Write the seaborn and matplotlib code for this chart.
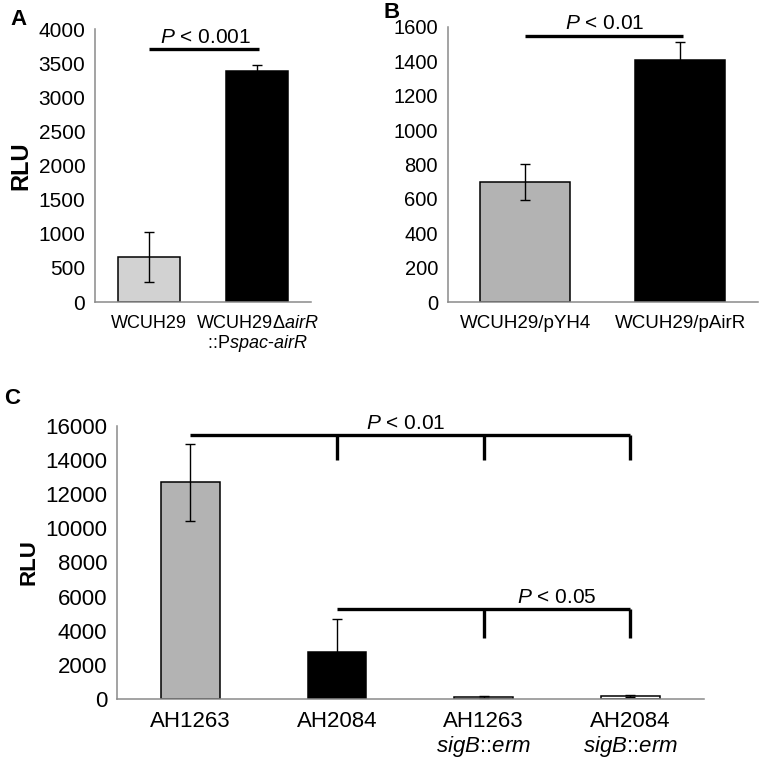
"""
Three-panel luminescence bar chart (RLU) with significance brackets.
"""

import numpy as np
import pandas as pd
import matplotlib
matplotlib.use("Agg")
import matplotlib.pyplot as plt
import seaborn as sns


# ─────────────────────────────────────────────
# Data
# ─────────────────────────────────────────────

a_strains = ["WCUH29", "WCUH29dairR"]
a_labels  = ["WCUH29", "WCUH29Δ$\\it{airR}$\n::P$\\it{spac}$-$\\it{airR}$"]
a_rlu     = [660, 3390]
a_err     = [360, 80]
a_colors  = ["#d2d2d2", "#000000"]

b_strains = ["WCUH29/pYH4", "WCUH29/pAirR"]
b_rlu     = [700, 1410]
b_err     = [105, 100]
b_colors  = ["#b3b3b3", "#000000"]

c_strains = ["AH1263", "AH2084", "AH1263 sigB::erm", "AH2084 sigB::erm"]
c_labels  = ["AH1263", "AH2084",
             "AH1263\n$\\it{sigB}$::$\\it{erm}$",
             "AH2084\n$\\it{sigB}$::$\\it{erm}$"]
c_rlu     = [12700, 2780, 90, 180]
c_err     = [2250, 1900, 60, 80]
c_colors  = ["#b3b3b3", "#000000", "#ffffff", "#ffffff"]

# significance annotations: (x_start, x_end, y, drops, drop_bottom, text, text_x, text_y)
a_sig = [(0, 1.02, 3707, [], None, "$\\it{P}$ < 0.001", 0.52, 3800)]
b_sig = [(0, 1.02, 1549, [], None, "$\\it{P}$ < 0.01", 0.51, 1590)]
c_sig = [(0, 3, 15500, [1, 2, 3], 14000, "$\\it{P}$ < 0.01", 1.47, 15800),
         (1, 3, 5300, [2, 3], 3600, "$\\it{P}$ < 0.05", 2.5, 5650)]


# ─────────────────────────────────────────────
# Style
# ─────────────────────────────────────────────

sns.set_style("white")
plt.rcParams["font.family"] = ["Liberation Sans", "DejaVu Sans"]
plt.rcParams["mathtext.fontset"] = "custom"
plt.rcParams["mathtext.rm"] = "Liberation Sans"
plt.rcParams["mathtext.it"] = "Liberation Sans:italic"
plt.rcParams["mathtext.bf"] = "Liberation Sans:bold"
plt.rcParams["text.color"] = "black"
plt.rcParams["axes.labelcolor"] = "black"
plt.rcParams["xtick.labelcolor"] = "black"
plt.rcParams["ytick.labelcolor"] = "black"

AXIS_GREY = "#8a8a8a"


def _panel(ax, strains, labels, values, errs, colors, ymax, ystep,
           width, tick_size, xtick_size, sig):
    df = pd.DataFrame({"strain": strains, "rlu": values})
    sns.barplot(data=df, x="strain", y="rlu", hue="strain", order=strains,
                hue_order=strains, palette=colors, edgecolor="black",
                linewidth=1.1, width=width, legend=False, errorbar=None,
                saturation=1, ax=ax)
    ax.errorbar(np.arange(len(strains)), values, yerr=errs, fmt="none",
                ecolor="black", elinewidth=1, capsize=3.5, capthick=1)

    n = len(strains)
    ax.set_xlim(-0.5, n - 0.5)
    ax.set_ylim(0, ymax)
    ax.set_yticks(np.arange(0, ymax + 1, ystep))
    ax.set_xticks(np.arange(n))
    ax.set_xticklabels(labels, fontsize=xtick_size, linespacing=1.1)
    ax.set_xticks(np.arange(-0.5, n, 1.0), minor=True)
    ax.tick_params(axis="x", which="major", length=0, pad=9)
    ax.tick_params(axis="x", which="minor", length=5, width=1,
                   color=AXIS_GREY, direction="out")
    ax.tick_params(axis="y", labelsize=tick_size, length=4, width=1,
                   color=AXIS_GREY, direction="out", pad=3)
    ax.set_xlabel("")
    ax.set_ylabel("")

    sns.despine(ax=ax)
    for side in ["left", "bottom"]:
        ax.spines[side].set_color(AXIS_GREY)
        ax.spines[side].set_linewidth(1.1)

    for x0, x1, y, drops, ybot, text, tx, ty in sig:
        ax.plot([x0, x1], [y, y], color="black", lw=2.4,
                solid_capstyle="butt", clip_on=False)
        for xd in drops:
            ax.plot([xd, xd], [y, ybot], color="black", lw=2.4,
                    solid_capstyle="butt", clip_on=False)
        ax.text(tx, ty, text, ha="center", va="baseline", fontsize=15,
                clip_on=False)


# ─────────────────────────────────────────────
# Figure
# ─────────────────────────────────────────────

fig = plt.figure(figsize=(7.6, 7.6), dpi=100)
axA = fig.add_axes([0.125, 0.6026, 0.284, 0.359])
axB = fig.add_axes([0.589, 0.6026, 0.408, 0.362])
axC = fig.add_axes([0.154, 0.0803, 0.772, 0.3592])

_panel(axA, a_strains, a_labels, a_rlu, a_err, a_colors, 4000, 500,
       0.58, 15, 13, a_sig)
_panel(axB, b_strains, b_strains, b_rlu, b_err, b_colors, 1600, 200,
       0.58, 14.5, 13.5, b_sig)
_panel(axC, c_strains, c_labels, c_rlu, c_err, c_colors, 16000, 2000,
       0.4, 16, 16, c_sig)

axA.set_ylabel("RLU", fontsize=17, fontweight="bold", labelpad=4)
axC.set_ylabel("RLU", fontsize=16, fontweight="bold", labelpad=4)

fig.text(0.024, 0.974, "A", fontsize=16, fontweight="bold", ha="center", va="center")
fig.text(0.515, 0.984, "B", fontsize=16, fontweight="bold", ha="center", va="center")
fig.text(0.016, 0.476, "C", fontsize=16, fontweight="bold", ha="center", va="center")

plt.savefig("out.png", dpi=100)
plt.close()
